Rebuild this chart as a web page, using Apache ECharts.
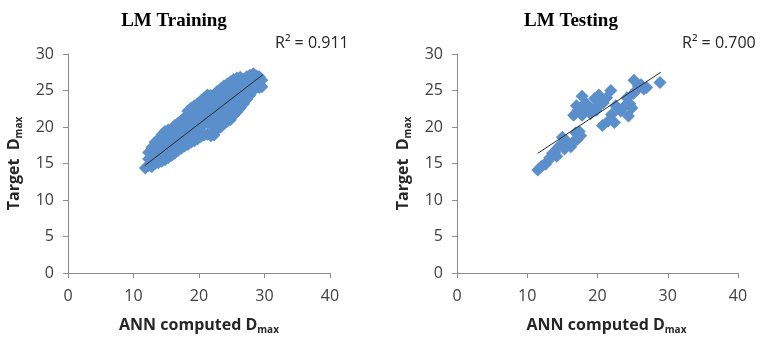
<!DOCTYPE html>
<html>
<head>
<meta charset="utf-8">
<script src="https://cdn.jsdelivr.net/npm/echarts@6/dist/echarts.min.js"></script>
<style>html,body{margin:0;padding:0;background:#fff;}#c{width:766px;height:344px;}</style>
</head>
<body>
<div id="c"></div>
<script>
const xTicks = [0, 10, 20, 30, 40];
const yTicks = [0, 5, 10, 15, 20, 25, 30];
const trainingPoints = [
  [11.8,14.4],
  [12.3,14.7],[12.3,15.6],[12.3,16.5],
  [12.8,14.6],[12.8,16.2],[12.8,17.2],
  [13.3,15.0],[13.3,16.0],[13.3,16.9],[13.3,17.9],
  [13.8,15.1],[13.8,16.3],[13.8,17.4],[13.8,18.3],
  [14.3,15.3],[14.3,16.5],[14.3,17.7],[14.3,18.9],
  [14.8,15.5],[14.8,16.7],[14.8,17.9],[14.8,19.4],
  [15.3,15.8],[15.3,17.0],[15.3,18.4],[15.3,19.6],
  [15.8,16.1],[15.8,17.3],[15.8,18.6],[15.8,19.5],
  [16.3,16.4],[16.3,17.6],[16.3,18.9],[16.3,20.2],
  [16.8,16.8],[16.8,18.0],[16.8,19.3],[16.8,20.5],
  [17.3,17.1],[17.3,18.3],[17.3,19.6],[17.3,20.9],
  [17.8,17.4],[17.8,18.6],[17.8,20.0],[17.8,21.3],
  [18.3,17.6],[18.3,18.9],[18.3,20.3],[18.3,21.6],[18.3,22.2],
  [18.8,17.9],[18.8,19.2],[18.8,20.6],[18.8,21.9],[18.8,22.6],
  [19.3,18.1],[19.3,19.5],[19.3,20.9],[19.3,22.2],[19.3,22.9],
  [19.8,18.4],[19.8,19.8],[19.8,21.2],[19.8,22.5],[19.8,23.2],
  [20.3,18.7],[20.3,20.1],[20.3,21.5],[20.3,22.8],[20.3,23.6],
  [20.8,18.9],[20.8,20.4],[20.8,21.8],[20.8,23.1],[20.8,24.0],
  [21.3,19.0],[21.3,20.6],[21.3,22.0],[21.3,23.3],[21.3,24.4],
  [21.8,18.8],[21.8,20.3],[21.8,21.7],[21.8,23.0],[21.8,24.3],
  [22.3,18.9],[22.3,20.5],[22.3,21.9],[22.3,23.3],[22.3,24.2],
  [22.8,19.7],[22.8,21.1],[22.8,22.5],[22.8,23.8],[22.8,24.9],
  [23.3,20.0],[23.3,21.4],[23.3,22.8],[23.3,24.1],[23.3,25.2],
  [23.8,20.4],[23.8,21.8],[23.8,23.2],[23.8,24.5],[23.8,25.6],
  [24.3,20.8],[24.3,22.1],[24.3,23.5],[24.3,24.8],[24.3,25.9],
  [24.8,21.0],[24.8,22.4],[24.8,23.8],[24.8,25.1],[24.8,26.2],
  [25.3,21.6],[25.3,22.9],[25.3,24.2],[25.3,25.5],[25.3,26.5],
  [25.8,22.1],[25.8,23.4],[25.8,24.7],[25.8,25.9],[25.8,26.7],
  [26.3,22.6],[26.3,23.8],[26.3,25.0],[26.3,26.2],[26.3,26.8],
  [26.8,23.2],[26.8,24.3],[26.8,25.4],[26.8,26.5],
  [27.3,23.8],[27.3,24.9],[27.3,25.9],[27.3,26.9],
  [27.8,24.4],[27.8,25.4],[27.8,26.3],[27.8,27.1],
  [28.3,25.0],[28.3,25.9],[28.3,26.8],[28.3,27.3],
  [28.8,25.6],[28.8,26.4],[28.8,27.0],
  [29.2,25.4],[29.2,26.3],[29.2,26.9],
  [29.6,25.5],[29.6,26.4]
];
const testingPoints = [
  [11.5,14.1],[12.0,14.6],[12.6,14.9],[13.0,15.4],[13.2,15.8],[13.6,16.4],[13.9,16.5],
  [14.2,16.0],[14.4,17.2],[14.8,17.6],[15.0,18.6],[15.3,17.0],[15.5,18.2],[15.9,17.6],
  [16.2,17.3],[16.6,18.0],[17.1,18.3],[17.4,19.4],[17.6,18.8],[16.9,19.2],
  [16.6,21.6],[17.0,22.9],[17.3,22.4],[17.8,24.2],[18.3,23.3],[17.8,21.6],[18.2,22.4],
  [19.0,21.8],[19.2,22.5],[19.6,23.9],[19.8,22.3],[20.2,24.4],[20.3,23.0],[20.8,23.3],
  [21.3,24.0],[20.7,20.2],[21.5,20.8],[21.9,25.0],[22.0,21.7],[22.4,20.6],
  [22.6,22.9],[23.3,22.2],[23.8,22.8],[24.4,21.5],[24.6,23.2],[24.9,22.6],[24.2,24.0],
  [25.1,24.6],[25.5,25.0],[25.2,26.4],[25.8,25.6],[26.2,25.8],[26.6,25.2],[27.0,25.4],
  [28.9,26.1]
];
const trainingTrend = [[11.7,14.7],[29.8,27.2]];
const testingTrend = [[11.5,16.4],[29.0,27.5]];
const titles = ['LM Training', 'LM Testing'];
const r2Labels = ['R\u00b2 = 0.911', 'R\u00b2 = 0.700'];

const axisColor = '#8c8c8c';
const labelColor = '#404040';
const markerColor = '#5b8fcb';

function xAxisFor(i, pad) {
  return {
    gridIndex: i, type: 'value', min: 0, max: 40, interval: 10,
    axisLine: {show: true, lineStyle: {color: axisColor, width: 1}},
    axisTick: {show: true, length: 5, inside: false, lineStyle: {color: axisColor}},
    splitLine: {show: false},
    axisLabel: {color: labelColor, fontFamily: 'Open Sans', fontSize: 16, margin: 15,
      formatter: v => xTicks.includes(v) ? String(v) : ''},
    name: '{a|ANN computed D}{s|max}',
    nameLocation: 'middle', nameGap: 42,
    nameTextStyle: {padding: [0, 0, 0, pad], rich: {
      a: {fontFamily: 'Open Sans', fontWeight: 'bold', fontSize: 16, color: '#262626', lineHeight: 20},
      s: {fontFamily: 'Open Sans', fontWeight: 'bold', fontSize: 10, color: '#262626', lineHeight: 14, verticalAlign: 'bottom'}
    }}
  };
}
function yAxisFor(i) {
  return {
    gridIndex: i, type: 'value', min: 0, max: 30, interval: 5,
    axisLine: {show: true, lineStyle: {color: axisColor, width: 1}},
    axisTick: {show: true, length: 5, inside: false, lineStyle: {color: axisColor}},
    splitLine: {show: false},
    axisLabel: {color: labelColor, fontFamily: 'Open Sans', fontSize: 16, margin: 14,
      formatter: v => yTicks.includes(v) ? String(v) : ''},
    name: '{a|Target  D}{s|max}',
    nameLocation: 'middle', nameGap: 44,
    nameTextStyle: {rich: {
      a: {fontFamily: 'Open Sans', fontWeight: 'bold', fontSize: 16, color: '#262626', lineHeight: 20},
      s: {fontFamily: 'Open Sans', fontWeight: 'bold', fontSize: 10, color: '#262626', lineHeight: 14, verticalAlign: 'bottom'}
    }}
  };
}
function scatter(i, data) {
  return {type: 'scatter', xAxisIndex: i, yAxisIndex: i, data: data, symbol: 'diamond', symbolSize: 13,
    itemStyle: {color: markerColor, opacity: 1}, silent: true, animation: false};
}
function trend(i, data) {
  return {type: 'line', xAxisIndex: i, yAxisIndex: i, data: data, showSymbol: false, symbol: 'none',
    lineStyle: {color: '#2a2a2a', width: 1}, z: 5, silent: true, animation: false};
}

const chart = echarts.init(document.getElementById('c'), null, {renderer: 'canvas'});
chart.setOption({
  backgroundColor: '#ffffff',
  animation: false,
  title: [
    {text: titles[0], left: 169, top: 7, textAlign: 'center',
      textStyle: {fontFamily: 'Liberation Serif', fontWeight: 'bold', fontSize: 19, color: '#000'}},
    {text: titles[1], left: 566, top: 7, textAlign: 'center',
      textStyle: {fontFamily: 'Liberation Serif', fontWeight: 'bold', fontSize: 19, color: '#000'}}
  ],
  graphic: [
    {type: 'text', left: 275, top: 35, style: {text: r2Labels[0], font: '16px "Open Sans"', fill: '#262626'}},
    {type: 'text', left: 682, top: 35, style: {text: r2Labels[1], font: '16px "Open Sans"', fill: '#262626'}}
  ],
  grid: [
    {left: 68, top: 54, width: 262, height: 219},
    {left: 457, top: 54, width: 281, height: 219}
  ],
  xAxis: [xAxisFor(0, 0), xAxisFor(1, 18)],
  yAxis: [yAxisFor(0), yAxisFor(1)],
  series: [
    scatter(0, trainingPoints), trend(0, trainingTrend),
    scatter(1, testingPoints), trend(1, testingTrend)
  ]
});
</script>
</body>
</html>
